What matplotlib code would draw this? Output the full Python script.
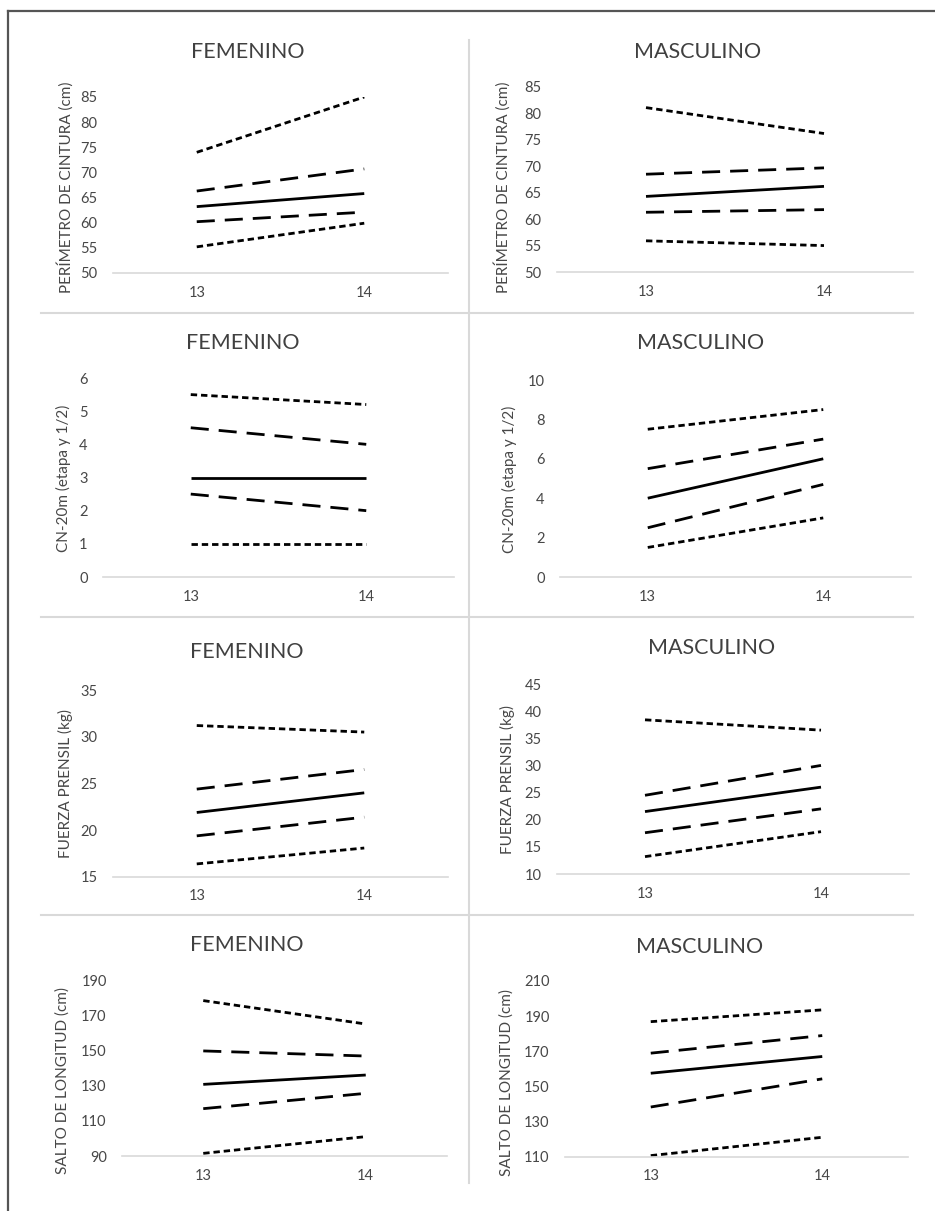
import matplotlib.pyplot as plt
from matplotlib.lines import Line2D

plt.rcParams['font.family'] = ['Lato', 'DejaVu Sans']

# ---- data (percentile curves P10, P25, P50, P75, P90 at ages 13 and 14) ----
ages = ['13', '14']

cintura_fem = [[55.2, 59.9], [60.2, 62.1], [63.2, 65.8], [66.3, 70.7], [74.0, 85.0]]
cintura_masc = [[55.9, 55.0], [61.3, 61.8], [64.3, 66.2], [68.5, 69.7], [81.1, 76.2]]
cn20_fem = [[1.0, 1.0], [2.5, 2.0], [3.0, 3.0], [4.5, 4.0], [5.5, 5.2]]
cn20_masc = [[1.5, 3.0], [2.5, 4.7], [4.0, 6.0], [5.5, 7.0], [7.5, 8.5]]
fuerza_fem = [[16.4, 18.1], [19.4, 21.4], [21.9, 24.0], [24.4, 26.5], [31.2, 30.5]]
fuerza_masc = [[13.2, 17.8], [17.6, 22.0], [21.5, 26.0], [24.5, 30.0], [38.4, 36.5]]
salto_fem = [[91.5, 101.0], [116.9, 125.6], [130.7, 136.0], [149.7, 146.8], [178.3, 165.0]]
salto_masc = [[110.8, 121.2], [138.4, 154.4], [157.6, 167.1], [169.0, 179.0], [186.9, 193.6]]

titles = ['FEMENINO', 'MASCULINO']
ylabels = ['PERÍMETRO DE CINTURA (cm)', 'CN-20m (etapa y 1/2)',
           'FUERZA PRENSIL (kg)', 'SALTO DE LONGITUD (cm)']

# ---- layout in pixels of the 935x1211 canvas ----
W, H = 935, 1211
panels = [
    # data, ylim, step, (x0, x1, ytop, ybase), title (x, y), ylabel (x, y), title idx, ylabel idx
    (cintura_fem, (50, 85), 5, (113, 448, 97, 273), (248, 52), (65, 187), 0, 0),
    (cintura_masc, (50, 85), 5, (557, 913, 87, 272), (698, 52), (502, 187), 1, 0),
    (cn20_fem, (0, 6), 1, (103, 454, 378, 577), (243, 343), (63, 478), 0, 1),
    (cn20_masc, (0, 10), 2, (560, 911, 380, 577), (701, 343), (509, 479), 1, 1),
    (fuerza_fem, (15, 35), 5, (113, 448, 690, 877), (247, 652), (65, 783), 0, 2),
    (fuerza_masc, (10, 45), 5, (557, 909, 684, 874), (712, 648), (507, 780), 1, 2),
    (salto_fem, (90, 190), 20, (122, 447, 980, 1156), (247, 945), (63, 1081), 0, 3),
    (salto_masc, (110, 210), 20, (565, 908, 981, 1157), (700, 947), (507, 1082), 1, 3),
]

lw = 2.0
styles = [(0, (2.3, 1.4)), (0, (6.5, 3.6)), '-', (0, (6.5, 3.6)), (0, (2.3, 1.4))]
txt = '#474747'

fig = plt.figure(figsize=(W / 100, H / 100), dpi=100)

for data, ylim, step, box, tpos, lpos, ti, li in panels:
    x0, x1, ytop, ybase = box
    ax = fig.add_axes([x0 / W, 1 - ybase / H, (x1 - x0) / W, (ybase - ytop) / H])
    for vals, ls in zip(data, styles):
        ax.plot([1, 2], vals, color='black', lw=lw, linestyle=ls,
                solid_capstyle='butt', dash_capstyle='butt')
    ax.set_xlim(0.5, 2.5)
    ax.set_ylim(*ylim)
    ax.set_yticks(range(ylim[0], ylim[1] + 1, step))
    ax.set_xticks([1, 2])
    ax.set_xticklabels(ages)
    ax.tick_params(length=0, labelsize=10.5, colors=txt, pad=9)
    ax.tick_params(axis='y', pad=11)
    for s in ['top', 'right', 'left']:
        ax.spines[s].set_visible(False)
    ax.spines['bottom'].set_color('#d9d9d9')
    ax.spines['bottom'].set_linewidth(1.2)
    ax.patch.set_alpha(0)

    fig.text(tpos[0] / W, 1 - tpos[1] / H, titles[ti], ha='center', va='center',
             fontsize=15.5, color='#404040')
    fig.text(lpos[0] / W, 1 - lpos[1] / H, ylabels[li], ha='center', va='center',
             rotation=90, fontsize=11, color=txt)

# panel separators
sep = '#d9d9d9'
for yy in [313, 617, 915]:
    fig.add_artist(Line2D([41 / W, 913 / W], [1 - yy / H, 1 - yy / H],
                          color=sep, lw=1.5))
fig.add_artist(Line2D([469 / W, 469 / W], [1 - 40 / H, 1 - 1183 / H], color=sep, lw=1.5))

# outer frame (top and left)
fig.add_artist(Line2D([8 / W, 1.0], [1 - 11 / H, 1 - 11 / H], color='#555555', lw=1.6))
fig.add_artist(Line2D([8 / W, 8 / W], [1 - 11 / H, 0], color='#555555', lw=1.6))

fig.savefig('out.png', dpi=100)
